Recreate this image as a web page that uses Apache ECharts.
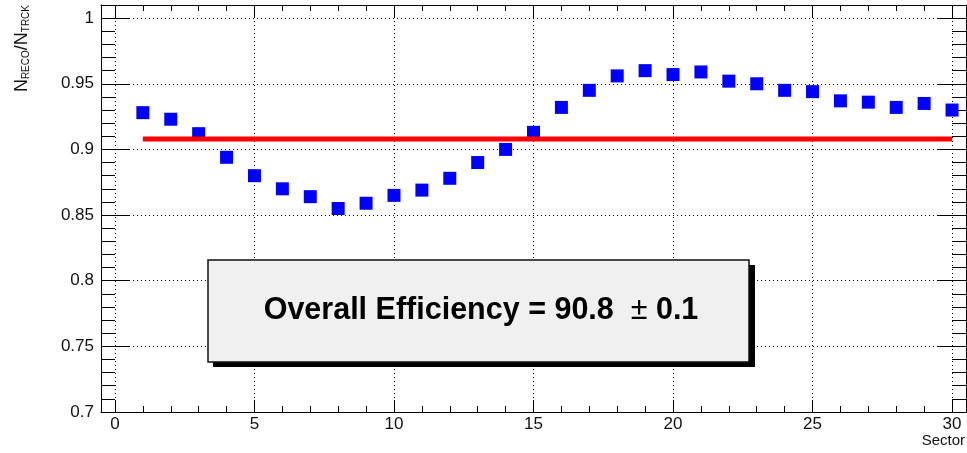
<!DOCTYPE html>
<html>
<head>
<meta charset="utf-8">
<script src="https://cdn.jsdelivr.net/npm/echarts@6/dist/echarts.min.js"></script>
<style>
html,body{margin:0;padding:0;background:#fff;}
#c{width:967px;height:453px;}
</style>
</head>
<body>
<div id="c"></div>
<script>
// ---- data ----
const sectors = [1,2,3,4,5,6,7,8,9,10,11,12,13,14,15,16,17,18,19,20,21,22,23,24,25,26,27,28,29,30];
const efficiency = [0.928,0.923,0.912,0.894,0.880,0.870,0.864,0.855,0.859,0.865,0.869,0.878,0.890,0.900,0.913,
                    0.932,0.945,0.956,0.960,0.957,0.959,0.952,0.950,0.945,0.944,0.937,0.936,0.932,0.935,0.930];
const fitRange = [1, 30];
const fitValue = 0.908;
const xRange = [-0.5, 30.5];
const yRange = [0.7, 1.01];
const yStep = 0.05;
const boxText = ['Overall Efficiency = 90.8  ', '\u00b1', ' 0.1'];
const yTitle = ['N', 'RECO', '/N', 'TRCK'];
const xTitle = 'Sector';

const FONT = 'Liberation Sans, Arial, Helvetica, sans-serif';
const chart = echarts.init(document.getElementById('c'), null, {renderer: 'canvas'});

const dotted = {show: true, lineStyle: {color: '#000', width: 1, type: [1, 3]}};
const axLine = {show: true, onZero: false, lineStyle: {color: '#000', width: 1}};

function xAx(pos, labels) {
  return {
    type: 'value', position: pos, min: xRange[0], max: xRange[1],
    axisLine: axLine,
    axisTick: {show: true, inside: true, length: 12, lineStyle: {color: '#000', width: 1}},
    minorTick: {show: true, splitNumber: 5, length: 6, lineStyle: {color: '#000', width: 1}},
    splitLine: labels ? dotted : {show: false},
    axisLabel: labels ? {show: true, fontFamily: FONT, fontSize: 17, color: '#111', margin: 4,
                         showMinLabel: false, showMaxLabel: false} : {show: false}
  };
}
function yAx(pos, labels) {
  return {
    type: 'value', position: pos, min: yRange[0], max: yRange[1], interval: yStep,
    axisLine: axLine,
    axisTick: {show: true, inside: true, length: 28, lineStyle: {color: '#000', width: 1}},
    minorTick: {show: true, splitNumber: 5, length: 14, lineStyle: {color: '#000', width: 1}},
    splitLine: labels ? dotted : {show: false},
    axisLabel: labels ? {show: true, fontFamily: FONT, fontSize: 17, color: '#111', margin: 7,
                         showMaxLabel: false,
                         formatter: v => String(parseFloat(v.toFixed(2)))} : {show: false}
  };
}

chart.setOption({
  animation: false,
  backgroundColor: '#fff',
  grid: {left: 101, right: 1, top: 5, bottom: 41, containLabel: false},
  xAxis: [xAx('bottom', true), xAx('top', false)],
  yAxis: [yAx('left', true), yAx('right', false)],
  series: [
    {
      type: 'scatter', xAxisIndex: 0, yAxisIndex: 0,
      data: sectors.map((s, i) => [s, efficiency[i]]),
      symbol: 'rect', symbolSize: 13,
      itemStyle: {color: '#0000ff', opacity: 1}, z: 3
    },
    {
      type: 'line', xAxisIndex: 0, yAxisIndex: 0,
      data: fitRange.map(x => [x, fitValue]),
      symbol: 'none', lineStyle: {color: '#ff0000', width: 5}, z: 4, silent: true
    }
  ],
  graphic: [
    {type: 'rect', z: 100, shape: {x: 213, y: 265, width: 542, height: 102}, style: {fill: '#000'}},
    {type: 'rect', z: 101, shape: {x: 208, y: 260, width: 541, height: 102},
     style: {fill: '#f0f0f0', stroke: '#111', lineWidth: 1.5}},
    {type: 'text', z: 102, x: 481, y: 311,
     style: {
       text: '{b|' + boxText[0] + '}{r|' + boxText[1] + '}{b|' + boxText[2] + '}',
       align: 'center', verticalAlign: 'middle',
       rich: {
         b: {fontFamily: FONT, fontSize: 30.5, fontWeight: 'bold', fill: '#000'},
         r: {fontFamily: FONT, fontSize: 30.5, fontWeight: 'normal', fill: '#000'}
       }
     }},
    {type: 'text', z: 102, x: 22.5, y: 5, rotation: Math.PI / 2,
     style: {
       text: '{n|' + yTitle[0] + '}{s|' + yTitle[1] + '}{n|' + yTitle[2] + '}{s|' + yTitle[3] + '}',
       align: 'right', verticalAlign: 'middle',
       rich: {
         n: {fontFamily: FONT, fontSize: 18, lineHeight: 18, verticalAlign: 'middle', fill: '#111'},
         s: {fontFamily: FONT, fontSize: 10, lineHeight: 10, verticalAlign: 'bottom', fill: '#111'}
       }
     }},
    {type: 'text', z: 102, x: 965, y: 441,
     style: {text: xTitle, fontFamily: FONT, fontSize: 15, fill: '#111', align: 'right', verticalAlign: 'middle'}}
  ]
});
</script>
</body>
</html>
